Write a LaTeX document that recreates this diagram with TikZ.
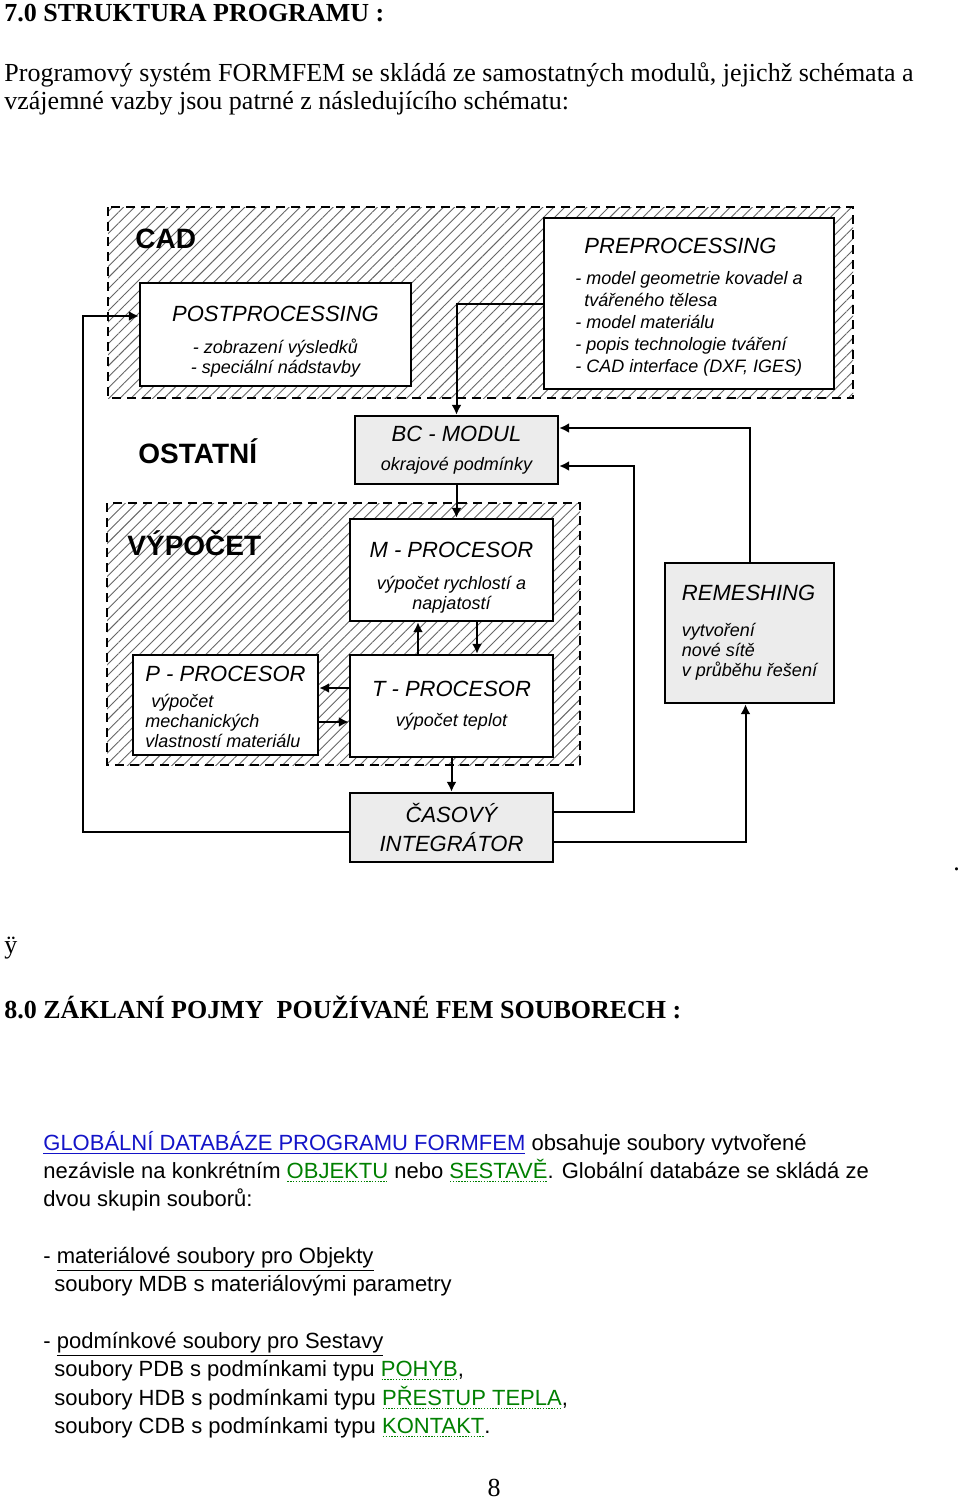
\documentclass[tikz,border=0pt]{standalone}
\usepackage{fontspec}
\setmainfont{Liberation Serif}
\setsansfont{Liberation Sans}
\usetikzlibrary{arrows.meta,patterns.meta}
\definecolor{boxgray}{RGB}{236,236,236}
\definecolor{linkblue}{RGB}{20,20,200}
\definecolor{termgreen}{RGB}{0,128,0}
\newcommand{\boxtitle}{\sffamily\itshape\fontsize{11}{13}\selectfont}
\newcommand{\boxsub}{\sffamily\itshape\fontsize{9}{10}\selectfont}
\newcommand{\lift}[1]{\rule{0pt}{#1}}
\newcommand{\termg}[1]{{\color{termgreen}\setbox0=\hbox{#1}%
	\rlap{\raisebox{-2.2pt}{\hbox to \wd0{\xleaders\hbox to 1.4pt{\hss\rule{0.7pt}{0.5pt}\hss}\hfill}}}\box0}}
\tikzset{
	modbox/.style={draw, line width=1.2pt, fill=white, inner sep=0pt, font=\boxsub},
	graybox/.style={modbox, fill=boxgray},
	zone/.style={draw, line width=1pt, dash pattern=on 4.5pt off 3pt,
		pattern={Lines[angle=45,distance=3.9pt,line width=0.45pt]}, pattern color=black!60},
	zonelabel/.style={anchor=base west, inner sep=0pt, font=\sffamily\bfseries\fontsize{14}{16}\selectfont},
	link/.style={line width=1pt, -{Latex[length=5pt,width=5pt]}},
	pagetext/.style={anchor=base west, inner sep=0pt, font=\fontsize{13}{15}\selectfont},
	headtext/.style={pagetext, font=\bfseries\fontsize{13}{15}\selectfont},
	dbtext/.style={anchor=base west, inner sep=0pt, font=\sffamily\fontsize{11}{13}\selectfont},
}

\begin{document}
\begin{tikzpicture}[x=0.5pt,y=-0.5pt]
	% Page
	\fill[white] (0,0) rectangle (960,1500);
	% Header and paragraph
	\node (head7) [headtext] at (4,21) {7.0 STRUKTURA PROGRAMU :};
	\node (para1) [pagetext] at (4,81) {Programový systém FORMFEM se skládá ze samostatných modulů, jejichž schémata a};
	\node (para2) [pagetext] at (4,109) {vzájemné vazby jsou patrné z následujícího schématu:};
	% Zones
	\draw[zone] (108,207) rectangle (853,398);
	\draw[zone] (107,503) rectangle (580,765);
	\node (cad) [zonelabel] at (135,248) {CAD};
	\node (ostatni) [zonelabel] at (138,463) {OSTATNÍ};
	\node (vypocet) [zonelabel] at (127,555) {VÝPOČET};
	% Modules
	\node (pre) [modbox, minimum width=145pt, minimum height=85.5pt, align=left] at (689,303.5)
		{\hspace*{4.5pt}{\boxtitle\lift{11.5pt}PREPROCESSING}\\[5.5pt] - model geometrie kovadel a\\[1pt] \hspace*{4.5pt}tvářeného tělesa\\[1pt] - model materiálu\\[1pt] - popis technologie tváření\\[1pt] - CAD interface (DXF, IGES)};
	\node (post) [modbox, minimum width=135.5pt, minimum height=51.5pt, align=center] at (275.5,334.5)
		{{\boxtitle\lift{15pt}POSTPROCESSING}\\[6pt] - zobrazení výsledků\\ - speciální nádstavby};
	\node (bc) [graybox, minimum width=101.5pt, minimum height=34pt, align=center] at (456.5,450)
		{{\boxtitle BC - MODUL}\\[4.5pt] okrajové podmínky};
	\node (mproc) [modbox, minimum width=101.5pt, minimum height=51pt, align=center] at (451.5,570)
		{{\boxtitle\lift{15pt}M - PROCESOR}\\[6pt] výpočet rychlostí a\\ napjatostí};
	\node (tproc) [modbox, minimum width=101.5pt, minimum height=51pt, align=center] at (451.5,706)
		{{\boxtitle T - PROCESOR}\\[5pt] výpočet teplot};
	\node (pproc) [modbox, minimum width=92.5pt, minimum height=50pt, align=left] at (225.5,705)
		{{\boxtitle\lift{10pt}P - PROCESOR}\\[3pt] \hspace*{3pt}výpočet\\ mechanických\\ vlastností materiálu};
	\node (remesh) [graybox, minimum width=84.5pt, minimum height=70pt, align=left] at (749.5,633)
		{{\boxtitle REMESHING}\\[8pt] vytvoření\\ nové sítě\\ v průběhu řešení};
	\node (integ) [graybox, minimum width=101.5pt, minimum height=34.5pt, align=center, font=\boxtitle] at (451.5,827.5)
		{ČASOVÝ\\[1.5pt] INTEGRÁTOR};
	% Links
	\draw[link] (pre.west) -| (bc.north);
	\draw[link] (bc.south) -- (bc.south |- mproc.north);
	\draw[link] ([xshift=-16.75pt]tproc.north) -- ([xshift=-16.75pt]mproc.south);
	\draw[link] ([xshift=12.75pt]mproc.south) -- ([xshift=12.75pt]tproc.north);
	\draw[link] ([yshift=9pt]tproc.west) -- ([yshift=9pt]tproc.west -| pproc.east);
	\draw[link] ([yshift=-8.5pt]pproc.east) -- ([yshift=-8.5pt]pproc.east -| tproc.west);
	\draw[link] (tproc.south) -- (integ.north);
	\draw[link] ([yshift=7.75pt]integ.east) -- ++(40pt,0) |- ([yshift=-8pt]bc.east);
	\draw[link] ([yshift=-7.25pt]integ.east) -| ([xshift=-2pt]remesh.south);
	\draw[link] (remesh.north) |- ([yshift=11pt]bc.east);
	\draw[link] ([yshift=-2.25pt]integ.west) -- ++(-133pt,0) |- ([yshift=9.25pt]post.west);
	% Stray marks
	\node (dotmark) [pagetext] at (953,870) {.};
	\node (ychar) [pagetext] at (4,953) {ÿ};
	% Section 8
	\node (head8) [headtext] at (4,1018) {8.0 ZÁKLANÍ POJMY\ \ POUŽÍVANÉ FEM SOUBORECH :};
	\node (glob1) [dbtext] at (43,1150) {\textcolor{linkblue}{\underline{GLOBÁLNÍ DATABÁZE PROGRAMU FORMFEM}} obsahuje soubory vytvořené};
	\node (glob2) [dbtext] at (43,1178) {nezávisle na konkrétním \termg{OBJEKTU} nebo \termg{SESTAVĚ}. Globální databáze se skládá ze};
	\node (glob3) [dbtext] at (43,1206) {dvou skupin souborů:};
	\node (mat1) [dbtext] at (43,1263) {- \underline{materiálové soubory pro Objekty}};
	\node (mat2) [dbtext] at (54,1291) {soubory MDB s materiálovými parametry};
	\node (cond1) [dbtext] at (43,1348) {- \underline{podmínkové soubory pro Sestavy}};
	\node (cond2) [dbtext] at (54,1376) {soubory PDB s podmínkami typu \termg{POHYB},};
	\node (cond3) [dbtext] at (54,1405) {soubory HDB s podmínkami typu \termg{PŘESTUP TEPLA},};
	\node (cond4) [dbtext] at (54,1433) {soubory CDB s podmínkami typu \termg{KONTAKT}.};
	\node (pagenum) [pagetext, anchor=base] at (494,1496) {8};
\end{tikzpicture}
\end{document}
